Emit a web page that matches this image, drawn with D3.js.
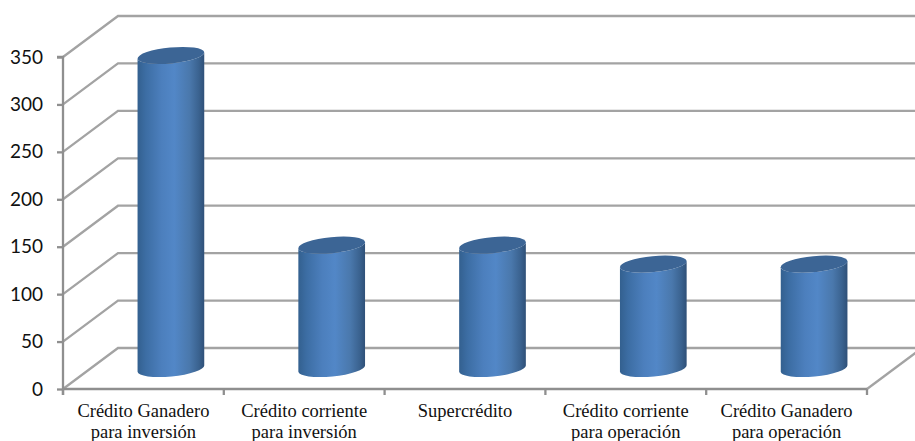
<!DOCTYPE html>
<html>
<head>
<meta charset="utf-8">
<script src="https://cdn.jsdelivr.net/npm/d3@7/dist/d3.min.js"></script>
<style>
html,body{margin:0;padding:0;background:#fff;overflow:hidden}
svg{display:block}
</style>
</head>
<body>
<svg id="chart" width="915" height="441"></svg>
<script>
// Credit lines and their amounts
const categories = [
  ["Crédito Ganadero", "para inversión"],
  ["Crédito corriente", "para inversión"],
  ["Supercrédito"],
  ["Crédito corriente", "para operación"],
  ["Crédito Ganadero", "para operación"]
];
const amounts = [330, 130, 130, 110, 110];
const tickValues = [0, 50, 100, 150, 200, 250, 300, 350];

const svg = d3.select("#chart");
const gridColor = "#a3a3a3";
const axisColor = "#8f8f8f";

// Front plane scales plus the oblique offset of the back wall
const left = 63, right = 867;
const depth = { dx: 55, dy: -41 };
const x = d3.scaleBand().domain(d3.range(categories.length)).range([left, right]);
const y = d3.scaleLinear().domain([0, 350]).range([389, 57]);

// Shading across the cylinder body
const defs = svg.append("defs");
const body = defs.append("linearGradient").attr("id", "cylinderBody");
[[0, "#33608f"], [0.12, "#3c6da3"], [0.36, "#4c7fbd"], [0.55, "#5287c7"],
 [0.78, "#4a78ac"], [0.92, "#3a628f"], [1, "#2f5078"]].forEach(([o, c]) =>
  body.append("stop").attr("offset", o).attr("stop-color", c));

// Side wall and back wall gridlines
const walls = svg.append("g").attr("fill", "none").attr("stroke", gridColor).attr("stroke-width", 2.3);
walls.selectAll("path.wall").data(tickValues).join("path").attr("class", "wall")
  .attr("d", v => d3.line()([
    [left, y(v)],
    [left + depth.dx, y(v) + depth.dy],
    [right + depth.dx, y(v) + depth.dy]
  ]));
walls.append("path").attr("d", d3.line()([
  [right, y(0)], [right + depth.dx, y(0) + depth.dy]
]));

// Axes
const yAxis = svg.append("g").attr("transform", `translate(${left},0)`)
  .call(d3.axisLeft(y).tickValues(tickValues).tickSize(6).tickPadding(14));
yAxis.selectAll("line,path").attr("stroke", axisColor).attr("stroke-width", 2.3);
yAxis.selectAll("text")
  .attr("font-family", "Lato, 'Open Sans', sans-serif")
  .attr("font-size", 19).attr("fill", "#111");
yAxis.select(".domain").attr("d", `M0,${y(0) + 6}V${y(350)}H-6`);

const xAxis = svg.append("g");
xAxis.append("line").attr("x1", left).attr("x2", right).attr("y1", y(0)).attr("y2", y(0))
  .attr("stroke", axisColor).attr("stroke-width", 2.3);
xAxis.selectAll("line.tick").data(d3.range(categories.length + 1)).join("line")
  .attr("class", "tick")
  .attr("x1", i => left + i * x.step()).attr("x2", i => left + i * x.step())
  .attr("y1", y(0)).attr("y2", y(0) + 6)
  .attr("stroke", axisColor).attr("stroke-width", 2.3);

const labels = xAxis.selectAll("text").data(categories).join("text")
  .attr("text-anchor", "middle")
  .attr("font-family", "'Liberation Serif', serif")
  .attr("font-size", 18.5).attr("fill", "#111");
labels.selectAll("tspan").data((d, i) => d.map(t => ({ t, i }))).join("tspan")
  .attr("x", d => x(d.i) + x.bandwidth() / 2)
  .attr("y", (d, j) => 417 + j * 20.5)
  .text(d => d.t);

// Cylinders stand at mid depth on the floor
const rx = 33.5, ry = 8, tilt = -5.5;
const tiltRad = tilt * Math.PI / 180;
const edgeDx = rx * Math.cos(tiltRad), edgeDy = rx * Math.sin(tiltRad);
const bars = svg.append("g").selectAll("g").data(amounts).join("g")
  .attr("transform", (d, i) =>
    `translate(${x(i) + x.bandwidth() / 2 + depth.dx / 2},${y(0) + depth.dy / 2})`);

bars.append("path")
  .attr("fill", "url(#cylinderBody)")
  .attr("d", d => {
    const top = y(d) - y(0);
    return `M${-edgeDx},${top - edgeDy}` +
      `L${-edgeDx},${-edgeDy}` +
      `A${rx},${ry} ${tilt} 0 0 ${edgeDx},${edgeDy}` +
      `L${edgeDx},${top + edgeDy}` +
      `A${rx},${ry} ${tilt} 0 1 ${-edgeDx},${top - edgeDy}Z`;
  });

bars.append("ellipse")
  .attr("rx", rx).attr("ry", ry)
  .attr("fill", "#3c6595")
  .attr("transform", d => `translate(0,${y(d) - y(0)}) rotate(${tilt})`);
</script>
</body>
</html>
